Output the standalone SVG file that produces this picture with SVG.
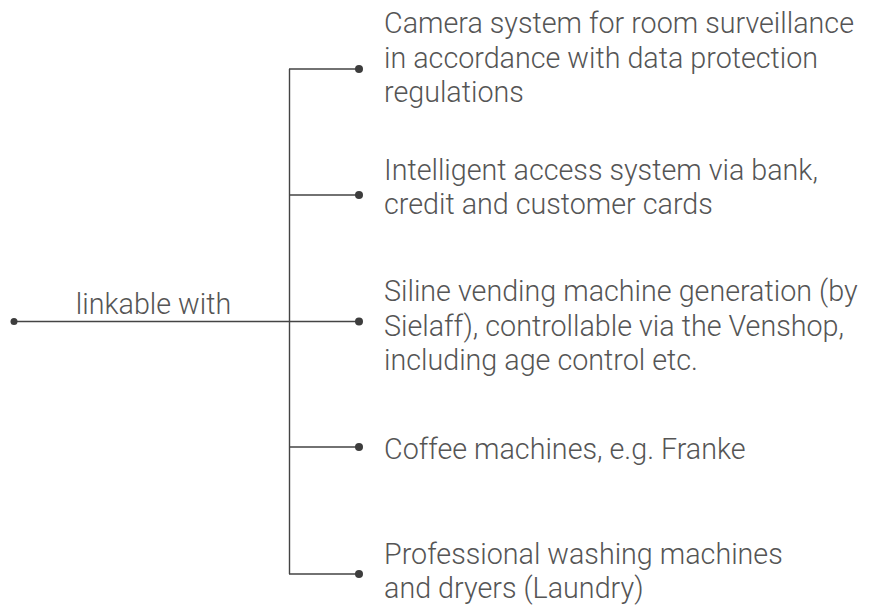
<svg xmlns="http://www.w3.org/2000/svg" width="877" height="609" viewBox="0 0 877 609">
<style>
.ln{stroke:#444;stroke-width:1.4;fill:none}
.dot{fill:#3d3d3d}
text{font-family:Roboto,"Liberation Sans",sans-serif;font-weight:300;font-size:28.7px;fill:#555}
</style>
<rect width="877" height="609" fill="#fff"/>
<g id="connectors">
<path class="ln" d="M14 321.5H359"/>
<path class="ln" d="M289.5 69V574"/>
<path class="ln" d="M289 69H359M289 195H359M289 447H359M289 574H359"/>
<circle class="dot" cx="14" cy="321.5" r="3.5"/>
<circle class="dot" cx="359" cy="69" r="4"/>
<circle class="dot" cx="359" cy="195" r="4"/>
<circle class="dot" cx="359" cy="321.5" r="4"/>
<circle class="dot" cx="359" cy="447" r="4"/>
<circle class="dot" cx="359" cy="574" r="4"/>
</g>
<g id="root"><text x="153.5" y="314" text-anchor="middle">linkable with</text></g>
<g id="n1"><text x="384" y="33">Camera system for room surveillance</text><text x="384" y="67.5">in accordance with data protection</text><text x="384" y="102">regulations</text></g>
<g id="n2"><text x="384" y="179.5">Intelligent access system via bank,</text><text x="384" y="214">credit and customer cards</text></g>
<g id="n3"><text x="384" y="301">Siline vending machine generation (by</text><text x="384" y="335.5">Sielaff), controllable via the Venshop,</text><text x="384" y="370">including age control etc.</text></g>
<g id="n4"><text x="384" y="458.5">Coffee machines, e.g. Franke</text></g>
<g id="n5"><text x="384" y="564">Professional washing machines</text><text x="384" y="598">and dryers (Laundry)</text></g>
</svg>
